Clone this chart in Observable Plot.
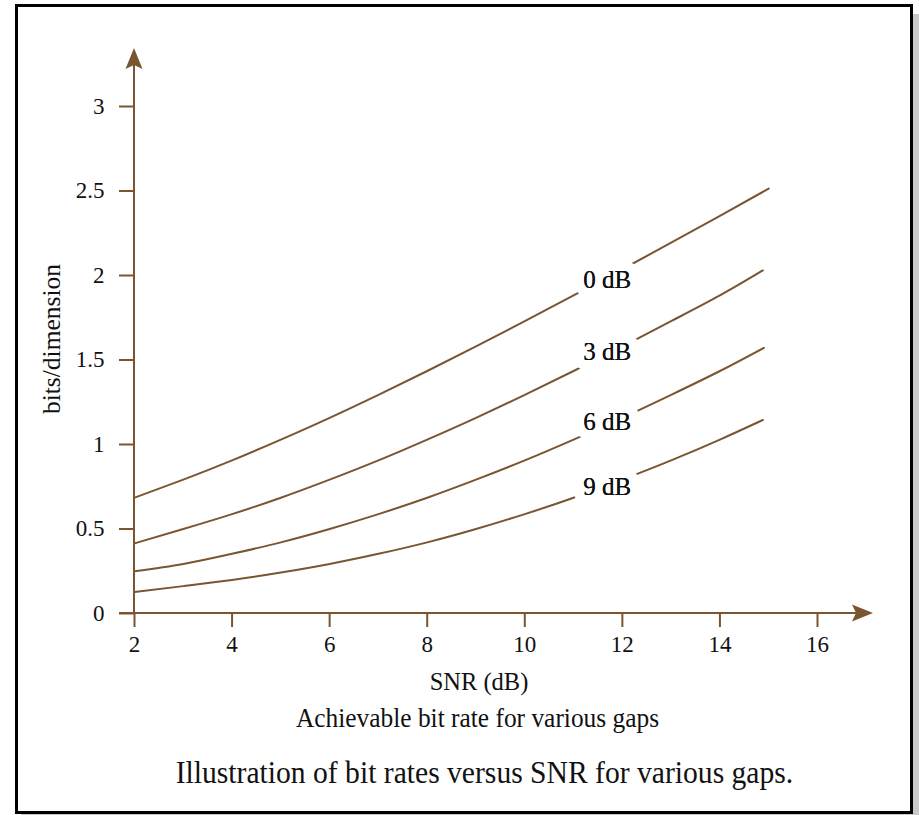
<!DOCTYPE html>
<html>
<head>
<meta charset="utf-8">
<script src="https://cdn.jsdelivr.net/npm/d3@7"></script>
<script src="https://cdn.jsdelivr.net/npm/@observablehq/plot@0.6"></script>
<style>
  html, body { margin: 0; padding: 0; background: #fff; }
  body { width: 919px; height: 815px; position: relative; overflow: hidden; font-family: "Liberation Serif", "DejaVu Serif", serif; }
  #frame { position: absolute; left: 15px; top: 4px; width: 898px; height: 810px; box-sizing: border-box; border: 3px solid #000; box-shadow: 6px 10px 0 #c9c9c9; background: #fff; }
  #chart { position: absolute; left: 0; top: 0; }
  .cap { position: absolute; width: 919px; text-align: center; color: #111; white-space: nowrap; line-height: 1; transform-origin: 50% 50%; }
  #cap1 { top: 703.5px; left: 18px; font-size: 28px; transform: scaleX(0.907); }
  #cap2 { top: 757px; left: 24.5px; font-size: 31px; transform: scaleX(0.955); }
</style>
</head>
<body>
<div id="frame"></div>
<div id="chart"></div>
<div class="cap" id="cap1">Achievable bit rate for various gaps</div>
<div class="cap" id="cap2">Illustration of bit rates versus SNR for various gaps.</div>
<script>
// ---- data ----
const snr = [2, 3, 4, 5, 6, 7, 8, 9, 10, 11, 12, 13, 14, 15];
const gapNames = ["0 dB", "3 dB", "6 dB", "9 dB"];
const gap0 = [0.685, 0.792, 0.906, 1.029, 1.158, 1.294, 1.435, 1.580, 1.730, 1.882, 2.037, 2.194, 2.353, 2.514];
const gap3 = [0.415, 0.500, 0.588, 0.685, 0.792, 0.906, 1.029, 1.158, 1.294, 1.435, 1.580, 1.730, 1.882, 2.030];
const gap6 = [0.250, 0.293, 0.353, 0.421, 0.500, 0.588, 0.685, 0.792, 0.906, 1.029, 1.158, 1.294, 1.435, 1.572];
const gap9 = [0.127, 0.162, 0.198, 0.242, 0.293, 0.353, 0.421, 0.500, 0.588, 0.685, 0.792, 0.906, 1.029, 1.145];
const lastSnr = [15, 14.88, 14.9, 14.88];
const labelSnr = [11.69, 11.69, 11.69, 11.69];
const labelBits = [1.975, 1.545, 1.135, 0.75];
const xTicks = [2, 4, 6, 8, 10, 12, 14, 16];
const yTicks = [0, 0.5, 1, 1.5, 2, 2.5, 3];
const xLabel = "SNR (dB)";
const yLabel = "bits/dimension";

const BROWN = "#7a5531";
const FONT = "'Liberation Serif', serif";

const seriesValues = [gap0, gap3, gap6, gap9];
const rows = [];
seriesValues.forEach((vals, i) => {
  vals.forEach((v, j) => {
    rows.push({ gap: gapNames[i], snr: j === vals.length - 1 ? lastSnr[i] : snr[j], bits: v });
  });
});
const labels = gapNames.map((g, i) => ({ gap: g, snr: labelSnr[i], bits: labelBits[i] }));

// axes lines with filled arrowheads (drawn through the scales)
function axesWithArrows(index, { x, y }, values, dims) {
  const g = d3.create("svg:g");
  const x0 = x(xTicks[0]), y0 = y(yTicks[0]);
  const yTop = y(yTicks[yTicks.length - 1]) - 58;
  const xRight = x(xTicks[xTicks.length - 1]) + 56;
  const xLeft = x0 - 15;
  g.append("line").attr("x1", x0).attr("x2", x0).attr("y1", y0).attr("y2", yTop + 16)
    .attr("stroke", BROWN).attr("stroke-width", 2);
  g.append("line").attr("x1", xLeft).attr("x2", xRight - 16).attr("y1", y0).attr("y2", y0)
    .attr("stroke", BROWN).attr("stroke-width", 2);
  g.append("path").attr("fill", BROWN)
    .attr("d", `M${x0},${yTop} L${x0 + 8.5},${yTop + 21} L${x0},${yTop + 17} L${x0 - 8.5},${yTop + 21} Z`);
  g.append("path").attr("fill", BROWN)
    .attr("d", `M${xRight},${y0} L${xRight - 21},${y0 - 8.5} L${xRight - 17},${y0} L${xRight - 21},${y0 + 8.5} Z`);
  return g.node();
}

const plot = Plot.plot({
  width: 919,
  height: 700,
  marginLeft: 134,
  marginRight: 102,
  marginTop: 106,
  marginBottom: 87,
  style: { fontFamily: FONT, background: "transparent", overflow: "visible" },
  x: { domain: [2, 16] },
  y: { domain: [0, 3] },
  marks: [
    Plot.axisX({ ticks: xTicks, tickSize: 14, tickPadding: 8, fontSize: 23, stroke: BROWN, strokeWidth: 2, fill: "#111", label: null, tickFormat: d => String(d) }),
    Plot.axisY({ ticks: yTicks, tickSize: 15, tickPadding: 15, fontSize: 23, stroke: BROWN, strokeWidth: 2, fill: "#111", label: null, tickFormat: d => String(d) }),
    Plot.line(rows, { x: "snr", y: "bits", z: "gap", stroke: BROWN, strokeWidth: 2, curve: "natural" }),
    Plot.text(labels, { x: "snr", y: "bits", text: "gap", fontSize: 25, fill: "#111", stroke: "white", strokeWidth: 20, strokeLinejoin: "round" }),
    Plot.text(labels, { x: "snr", y: "bits", text: "gap", fontSize: 25, fill: "#111" }),
    axesWithArrows,
    Plot.text([xLabel], { frameAnchor: "bottom", textAnchor: "middle", lineAnchor: "middle", dx: 3, dy: 69, text: d => d, fontSize: 24.5, fill: "#111" }),
    Plot.text([yLabel], { frameAnchor: "left", textAnchor: "middle", lineAnchor: "middle", dx: -83, dy: -21, rotate: -90, text: d => d, fontSize: 25.5, fill: "#111" })
  ]
});
document.getElementById("chart").appendChild(plot);
</script>
</body>
</html>
